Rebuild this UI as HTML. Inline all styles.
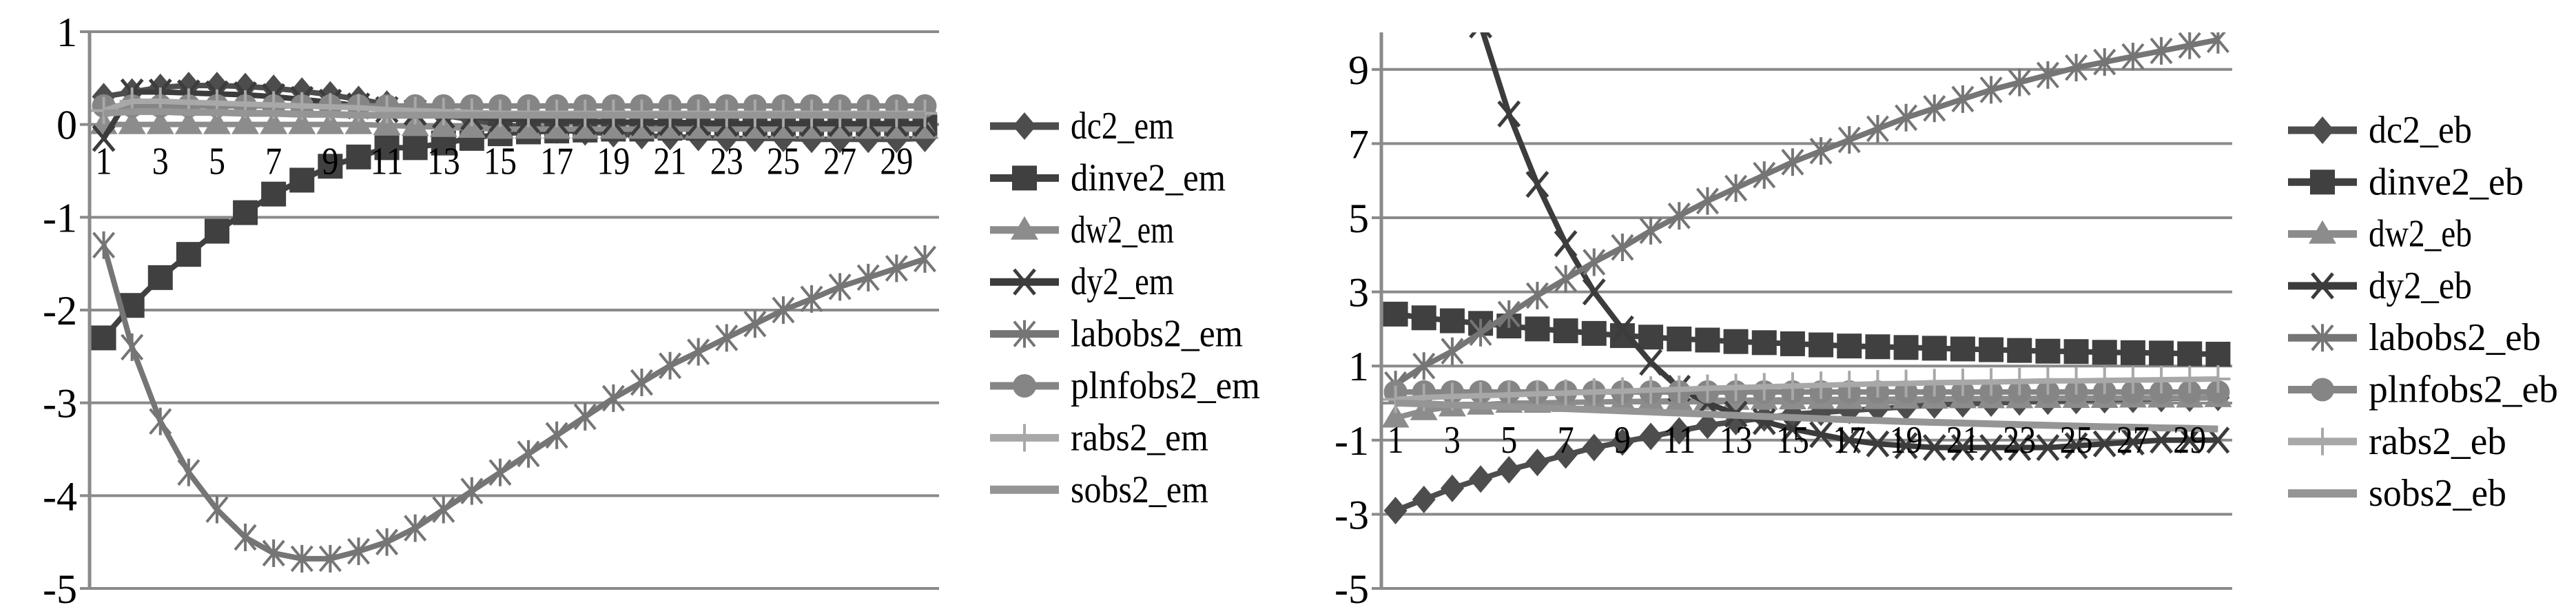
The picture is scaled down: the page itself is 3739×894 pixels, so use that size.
<!DOCTYPE html>
<html><head><meta charset="utf-8"><style>
html,body{margin:0;padding:0;background:#fff;}
svg{display:block;}
text{font-family:"Liberation Serif",serif;fill:#000;}
</style></head><body>
<svg id="c" width="3739" height="894" viewBox="0 0 3739 894" xmlns="http://www.w3.org/2000/svg"></svg>
<script>
const categories = [1,2,3,4,5,6,7,8,9,10,11,12,13,14,15,16,17,18,19,20,21,22,23,24,25,26,27,28,29,30];
const seriesNames = ["dc2","dinve2","dw2","dy2","labobs2","plnfobs2","rabs2","sobs2"];
const leftTicks = [1,0,-1,-2,-3,-4,-5];
const rightTicks = [9,7,5,3,1,-1,-3,-5];
// left chart (em)
const em_dc2 = [0.3,0.35,0.4,0.42,0.42,0.41,0.39,0.36,0.32,0.27,0.22,0.16,0.1,0.05,0,-0.03,-0.06,-0.08,-0.1,-0.12,-0.13,-0.14,-0.15,-0.15,-0.15,-0.16,-0.16,-0.16,-0.16,-0.15];
const em_dinve2 = [-2.3,-1.95,-1.65,-1.4,-1.15,-0.95,-0.75,-0.6,-0.45,-0.35,-0.25,-0.25,-0.2,-0.15,-0.1,-0.08,-0.07,-0.06,-0.05,-0.05,-0.04,-0.04,-0.03,-0.03,-0.03,-0.02,-0.02,-0.02,-0.02,-0.02];
const em_dw2 = [0,0,0,0,0,0,0,0,0,0,-0.01,-0.02,-0.03,-0.04,-0.05,-0.05,-0.05,-0.05,-0.05,-0.05,-0.05,-0.05,-0.05,-0.05,-0.05,-0.05,-0.05,-0.05,-0.05,-0.05];
const em_dy2 = [-0.15,0.35,0.35,0.34,0.33,0.32,0.3,0.27,0.24,0.2,0.16,0.13,0.1,0.08,0.06,0.05,0.04,0.03,0.03,0.02,0.02,0.02,0.01,0.01,0.01,0.01,0.01,0.01,0.01,0.01];
const em_labobs2 = [-1.3,-2.4,-3.2,-3.75,-4.15,-4.45,-4.62,-4.68,-4.68,-4.6,-4.5,-4.35,-4.15,-3.95,-3.75,-3.55,-3.35,-3.15,-2.95,-2.78,-2.6,-2.45,-2.3,-2.15,-2.0,-1.88,-1.75,-1.65,-1.55,-1.45];
const em_plnfobs2 = [0.2,0.2,0.2,0.2,0.2,0.2,0.2,0.2,0.2,0.2,0.2,0.2,0.2,0.2,0.2,0.2,0.2,0.2,0.2,0.2,0.2,0.2,0.2,0.2,0.2,0.2,0.2,0.2,0.2,0.2];
const em_rabs2 = [0.15,0.25,0.25,0.24,0.23,0.22,0.21,0.2,0.19,0.18,0.16,0.15,0.14,0.13,0.12,0.12,0.12,0.12,0.12,0.12,0.12,0.12,0.12,0.12,0.12,0.12,0.12,0.12,0.12,0.12];
const em_sobs2 = [0.12,0.14,0.14,0.13,0.13,0.12,0.12,0.11,0.11,0.1,0.1,0.1,0.1,0.1,0.1,0.1,0.1,0.1,0.1,0.1,0.1,0.1,0.1,0.1,0.1,0.1,0.1,0.1,0.1,0.1];
// right chart (eb)
const eb_dc2 = [-2.9,-2.6,-2.3,-2.05,-1.8,-1.6,-1.4,-1.2,-1.05,-0.9,-0.75,-0.6,-0.5,-0.4,-0.3,-0.25,-0.2,-0.15,-0.1,-0.05,-0.02,0,0.03,0.05,0.07,0.09,0.1,0.12,0.13,0.15];
const eb_dinve2 = [2.4,2.3,2.22,2.15,2.08,2.0,1.95,1.88,1.82,1.78,1.73,1.7,1.66,1.63,1.6,1.57,1.54,1.52,1.5,1.48,1.46,1.44,1.42,1.4,1.39,1.37,1.36,1.35,1.33,1.32];
const eb_dw2 = [-0.4,-0.2,-0.1,-0.05,0,0,0.02,0.03,0.04,0.05,0.06,0.07,0.08,0.08,0.09,0.1,0.1,0.1,0.11,0.11,0.12,0.12,0.12,0.13,0.13,0.13,0.14,0.14,0.14,0.15];
const eb_dy2 = [20,16,12.8,10.2,7.8,5.9,4.3,3.0,2.0,1.1,0.4,0,-0.3,-0.5,-0.7,-0.85,-1.0,-1.1,-1.15,-1.2,-1.2,-1.2,-1.2,-1.2,-1.15,-1.1,-1.05,-1.0,-1.0,-1.0];
const eb_labobs2 = [0.5,1.0,1.4,1.9,2.4,2.9,3.35,3.8,4.2,4.65,5.05,5.45,5.8,6.15,6.5,6.8,7.1,7.4,7.7,7.95,8.2,8.45,8.65,8.85,9.05,9.2,9.35,9.5,9.65,9.8];
const eb_plnfobs2 = [0.3,0.3,0.3,0.3,0.3,0.3,0.3,0.3,0.3,0.3,0.3,0.3,0.3,0.3,0.3,0.3,0.3,0.3,0.3,0.3,0.3,0.3,0.3,0.3,0.3,0.3,0.3,0.3,0.3,0.3];
const eb_rabs2 = [0.1,0.15,0.18,0.2,0.22,0.25,0.27,0.3,0.32,0.35,0.37,0.4,0.42,0.44,0.46,0.48,0.5,0.52,0.53,0.55,0.56,0.57,0.58,0.6,0.6,0.61,0.62,0.63,0.64,0.65];
const eb_sobs2 = [0,-0.02,-0.05,-0.07,-0.1,-0.12,-0.15,-0.18,-0.21,-0.24,-0.27,-0.3,-0.33,-0.36,-0.39,-0.42,-0.45,-0.47,-0.5,-0.52,-0.54,-0.56,-0.58,-0.6,-0.62,-0.64,-0.65,-0.67,-0.68,-0.7];

const NS="http://www.w3.org/2000/svg";
const svg=document.getElementById('c');
function mk(tag,attrs,parent){const e=document.createElementNS(NS,tag);for(const k in attrs)e.setAttribute(k,attrs[k]);(parent||svg).appendChild(e);return e;}
const styles={
 dc2:{c:"#4d4d4d",m:"diamond"},dinve2:{c:"#404040",m:"square"},dw2:{c:"#8c8c8c",m:"triangle"},
 dy2:{c:"#3c3c3c",m:"x"},labobs2:{c:"#757575",m:"star"},plnfobs2:{c:"#858585",m:"circle"},
 rabs2:{c:"#a8a8a8",m:"plus"},sobs2:{c:"#959595",m:"none"}};
function marker(g,m,x,y,c){
 const s=20;
 if(m==="diamond")mk('polygon',{points:`${x},${y-s} ${x+s*0.85},${y} ${x},${y+s} ${x-s*0.85},${y}`,fill:c},g);
 else if(m==="square")mk('rect',{x:x-18,y:y-18,width:36,height:36,fill:c},g);
 else if(m==="triangle")mk('polygon',{points:`${x},${y-s} ${x+s},${y+s*0.7} ${x-s},${y+s*0.7}`,fill:c},g);
 else if(m==="circle")mk('circle',{cx:x,cy:y,r:17,fill:c},g);
 else if(m==="x")mk('path',{d:`M${x-15},${y-18}L${x+15},${y+18}M${x+15},${y-18}L${x-15},${y+18}`,stroke:c,'stroke-width':5},g);
 else if(m==="star")mk('path',{d:`M${x-15},${y-18}L${x+15},${y+18}M${x+15},${y-18}L${x-15},${y+18}M${x},${y-20}L${x},${y+20}`,stroke:c,'stroke-width':4},g);
 else if(m==="plus")mk('path',{d:`M${x-18},${y}L${x+18},${y}M${x},${y-20}L${x},${y+20}`,stroke:c,'stroke-width':4},g);
}
function chart(cfg){
 const {id,x0,x1,yTop,yBot,vMax,vMin,ticks,data,suffix,legX,legY,legStep}=cfg;
 const g=mk('g',{});  
 const yS=v=>yBot-(v-vMin)/(vMax-vMin)*(yBot-yTop);
 const bw=(x1-x0)/categories.length;
 const xS=i=>x0+bw*(i+0.5);
 const clipId=id+'-clip';
 const cp=mk('clipPath',{id:clipId},g); mk('rect',{x:x0-25,y:yTop,width:x1-x0+50,height:yBot-yTop+25},cp);
 ticks.forEach(t=>{
  const ln=mk('line',{x1:x0,x2:x1,y1:yS(t),y2:yS(t),stroke:'#8a8a8a','stroke-width':4},g);
   
  mk('line',{x1:x0-14,x2:x0,y1:yS(t),y2:yS(t),stroke:'#8a8a8a','stroke-width':4},g);
  const tx=mk('text',{x:x0-18,y:yS(t)+21,'text-anchor':'end','font-size':60},g); tx.textContent=t;
   
 });
 const ax=mk('line',{x1:x0,x2:x0,y1:yTop,y2:yBot,stroke:'#8a8a8a','stroke-width':5},g);
  
 const xa=mk('line',{x1:x0,x2:x1,y1:yS(0),y2:yS(0),stroke:'#8a8a8a','stroke-width':4},g);
  
 const sg=mk('g',{'clip-path':`url(#${clipId})`},g);
 seriesNames.forEach(n=>{
  const st=styles[n], vals=data[n];
  const s=mk('g',{},sg);  
  mk('polyline',{points:vals.map((v,i)=>xS(i)+','+yS(v)).join(' '),fill:'none',stroke:st.c,'stroke-width':n==='sobs2'?10:8},s);
  vals.forEach((v,i)=>marker(s,st.m,xS(i),yS(v),st.c));
 });
 categories.forEach((c,i)=>{ if(i%2)return;
  const t=mk('text',{x:xS(i),y:yS(0)+72,'text-anchor':'middle','font-size':56,'textLength':(c>9?48:24),'lengthAdjust':'spacingAndGlyphs'},g); t.textContent=c;
   
 });
 seriesNames.forEach((n,k)=>{
  const st=styles[n], y=legY+k*legStep;
  const lg=mk('g',{},g);  
  mk('line',{x1:legX,x2:legX+100,y1:y,y2:y,stroke:st.c,'stroke-width':n==='sobs2'?12:11},lg);
  marker(lg,st.m,legX+50,y,st.c);
  const t=mk('text',{x:legX+117,y:y+18,'font-size':56,'textLength':(n+suffix).length*25,'lengthAdjust':'spacingAndGlyphs'},lg); t.textContent=n+suffix;
 });
}
chart({id:'chart-em',x0:130,x1:1363,yTop:46,yBot:854,vMax:1,vMin:-5,ticks:leftTicks,data:{dc2:em_dc2,dinve2:em_dinve2,dw2:em_dw2,dy2:em_dy2,labobs2:em_labobs2,plnfobs2:em_plnfobs2,rabs2:em_rabs2,sobs2:em_sobs2},suffix:'_em',legX:1437,legY:183,legStep:75.4});
chart({id:'chart-eb',x0:2005,x1:3240,yTop:47,yBot:854,vMax:10,vMin:-5,ticks:rightTicks,data:{dc2:eb_dc2,dinve2:eb_dinve2,dw2:eb_dw2,dy2:eb_dy2,labobs2:eb_labobs2,plnfobs2:eb_plnfobs2,rabs2:eb_rabs2,sobs2:eb_sobs2},suffix:'_eb',legX:3321,legY:189,legStep:75.3});
</script>
</body></html>
